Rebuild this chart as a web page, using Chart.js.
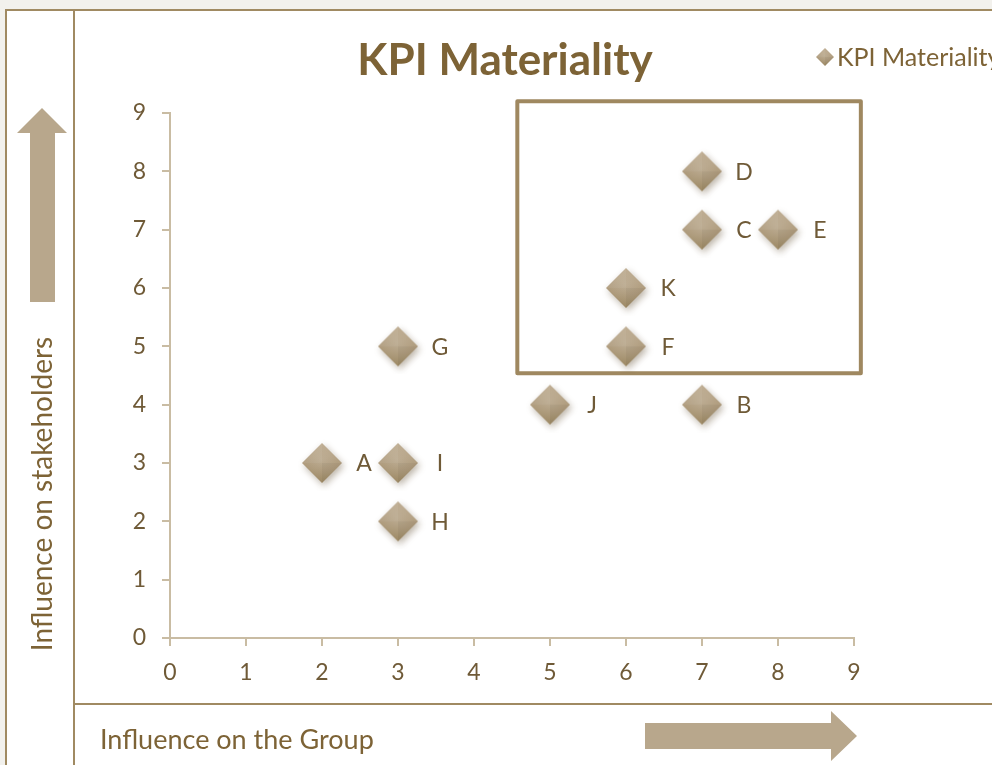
<!DOCTYPE html>
<html>
<head>
<meta charset="utf-8">
<style>
  html, body { margin: 0; padding: 0; background: #f2f1ed; }
  #wrap { position: absolute; left: 0; top: 0; width: 992px; height: 765px; }
</style>
<script src="https://cdn.jsdelivr.net/npm/chart.js@4"></script>
</head>
<body>
<div id="wrap"><canvas id="kpiChart" width="992" height="765"></canvas></div>
<script>
// data
const pointNames = ['A', 'B', 'C', 'D', 'E', 'F', 'G', 'H', 'I', 'J', 'K'];
const groupInfluence = [2, 7, 7, 7, 8, 6, 3, 3, 3, 5, 6];
const stakeholderInfluence = [3, 4, 7, 8, 7, 5, 5, 2, 3, 4, 6];
const tickValues = [0, 1, 2, 3, 4, 5, 6, 7, 8, 9];
// highlight box, in axis units
const boxX = [4.57, 9.09];
const boxY = [4.54, 9.2];

const brown = '#7d6336';
const tickColor = '#6f5a37';
const lineColor = '#a08a62';
const arrowColor = '#b8a78c';
const fontName = 'Lato, "Open Sans", sans-serif';

// diamond marker image with a soft bevel + shadow
const makeDiamond = (half, shadow) => {
  const pad = shadow ? 8 : 2;
  const c = document.createElement('canvas');
  c.width = c.height = (half + pad) * 2;
  const g = c.getContext('2d');
  const cx = half + pad, cy = half + pad;
  g.save();
  if (shadow) {
    g.shadowColor = 'rgba(90,70,40,0.4)';
    g.shadowBlur = 7;
    g.shadowOffsetX = 2;
    g.shadowOffsetY = 3;
  }
  g.beginPath();
  g.moveTo(cx, cy - half);
  g.lineTo(cx + half, cy);
  g.lineTo(cx, cy + half);
  g.lineTo(cx - half, cy);
  g.closePath();
  const grad = g.createLinearGradient(cx, cy - half, cx, cy + half);
  grad.addColorStop(0, '#c0af95');
  grad.addColorStop(0.5, '#b19e80');
  grad.addColorStop(1, '#9e8a66');
  g.fillStyle = grad;
  g.fill();
  g.restore();
  // soft highlight in the middle
  const rg = g.createRadialGradient(cx, cy - half * 0.15, 0, cx, cy, half * 0.8);
  rg.addColorStop(0, 'rgba(255,255,255,0.12)');
  rg.addColorStop(1, 'rgba(255,255,255,0)');
  g.beginPath();
  g.moveTo(cx, cy - half);
  g.lineTo(cx + half, cy);
  g.lineTo(cx, cy + half);
  g.lineTo(cx - half, cy);
  g.closePath();
  g.fillStyle = rg;
  g.fill();
  // faint facets
  const facet = (ax, ay, bx, by, col) => {
    g.beginPath();
    g.moveTo(cx, cy);
    g.lineTo(ax, ay);
    g.lineTo(bx, by);
    g.closePath();
    g.fillStyle = col;
    g.fill();
  };
  facet(cx - half, cy, cx, cy - half, 'rgba(255,255,255,0.05)');
  facet(cx + half, cy, cx, cy + half, 'rgba(0,0,0,0.04)');
  return c;
};
const diamond = makeDiamond(20, true);
const legendDiamond = makeDiamond(9, false);

const drawArrowRight = (ctx, x0, x1, headX, yMid, shaftH, headH) => {
  ctx.beginPath();
  ctx.moveTo(x0, yMid - shaftH / 2);
  ctx.lineTo(headX, yMid - shaftH / 2);
  ctx.lineTo(headX, yMid - headH / 2);
  ctx.lineTo(x1, yMid);
  ctx.lineTo(headX, yMid + headH / 2);
  ctx.lineTo(headX, yMid + shaftH / 2);
  ctx.lineTo(x0, yMid + shaftH / 2);
  ctx.closePath();
  ctx.fill();
};

const framePlugin = {
  id: 'frame',
  beforeDraw(chart) {
    const ctx = chart.ctx;
    ctx.save();
    ctx.fillStyle = '#f2f1ed';
    ctx.fillRect(0, 0, 992, 765);
    ctx.fillStyle = '#ffffff';
    ctx.fillRect(6, 10, 992, 765);
    ctx.strokeStyle = lineColor;
    ctx.lineWidth = 2;
    ctx.beginPath();
    ctx.moveTo(6, 770);
    ctx.lineTo(6, 10);
    ctx.lineTo(995, 10);
    ctx.moveTo(74, 10);
    ctx.lineTo(74, 770);
    ctx.moveTo(74, 704);
    ctx.lineTo(995, 704);
    ctx.stroke();

    // arrows
    ctx.fillStyle = arrowColor;
    drawArrowRight(ctx, 645, 857, 831, 736, 26, 50);
    ctx.beginPath();
    ctx.moveTo(42, 108);
    ctx.lineTo(67, 133);
    ctx.lineTo(55, 133);
    ctx.lineTo(55, 302);
    ctx.lineTo(30, 302);
    ctx.lineTo(30, 133);
    ctx.lineTo(17, 133);
    ctx.closePath();
    ctx.fill();

    // axis titles
    ctx.fillStyle = brown;
    ctx.textBaseline = 'middle';
    ctx.textAlign = 'left';
    ctx.font = '27px ' + fontName;
    ctx.fillText('Influence on the Group', 100, 740);
    ctx.translate(43, 494);
    ctx.rotate(-Math.PI / 2);
    ctx.textAlign = 'center';
    ctx.font = '28px ' + fontName;
    ctx.fillText('Influence on stakeholders', 0, 0);
    ctx.restore();

    // title + legend
    ctx.save();
    ctx.fillStyle = brown;
    ctx.font = 'bold 44px ' + fontName;
    ctx.textAlign = 'center';
    ctx.textBaseline = 'middle';
    ctx.fillText('KPI Materiality', 505, 61);
    ctx.drawImage(legendDiamond, 825 - legendDiamond.width / 2, 57 - legendDiamond.height / 2);
    ctx.font = '25px ' + fontName;
    ctx.textAlign = 'left';
    ctx.fillText('KPI Materiality', 837, 58);
    ctx.restore();
  },
  beforeDatasetsDraw(chart) {
    const ctx = chart.ctx;
    const xs = chart.scales.x, ys = chart.scales.y;
    const l = xs.getPixelForValue(boxX[0]), r = xs.getPixelForValue(boxX[1]);
    const t = ys.getPixelForValue(boxY[1]), b = ys.getPixelForValue(boxY[0]);
    ctx.save();
    ctx.strokeStyle = '#9f8860';
    ctx.lineWidth = 4;
    ctx.lineJoin = 'round';
    ctx.strokeRect(l, t, r - l, b - t);
    ctx.restore();
  },
  afterDatasetsDraw(chart) {
    const ctx = chart.ctx;
    const meta = chart.getDatasetMeta(0);
    ctx.save();
    ctx.fillStyle = tickColor;
    ctx.font = '23px ' + fontName;
    ctx.textAlign = 'center';
    ctx.textBaseline = 'middle';
    meta.data.forEach((pt, i) => {
      ctx.fillText(pointNames[i], pt.x + 42, pt.y + 1);
    });
    ctx.restore();
  }
};

const axisOpts = (fitKey, fitSize, pad) => ({
  type: 'linear',
  min: 0,
  max: 9,
  afterBuildTicks: (scale) => { scale.ticks = tickValues.map(v => ({ value: v })); },
  afterFit: (scale) => { scale[fitKey] = fitSize; },
  border: { display: true, color: '#c9bca3', width: 2 },
  grid: { display: true, drawOnChartArea: false, drawTicks: true, tickLength: 8, color: '#c9bca3', lineWidth: 2 },
  ticks: { color: tickColor, font: { family: fontName, size: 23 }, padding: pad }
});

new Chart(document.getElementById('kpiChart'), {
  type: 'scatter',
  data: {
    datasets: [{
      label: 'KPI Materiality',
      data: groupInfluence.map((x, i) => ({ x: x, y: stakeholderInfluence[i] })),
      pointStyle: diamond,
      pointRadius: 20,
      pointHoverRadius: 20
    }]
  },
  plugins: [framePlugin],
  options: {
    responsive: false,
    animation: false,
    layout: { padding: { left: 100, right: 138, top: 113, bottom: 67 } },
    scales: {
      x: axisOpts('height', 60, 13),
      y: axisOpts('width', 70, 16)
    },
    plugins: {
      legend: { display: false },
      title: { display: false },
      tooltip: { enabled: false }
    }
  }
});
</script>
</body>
</html>
